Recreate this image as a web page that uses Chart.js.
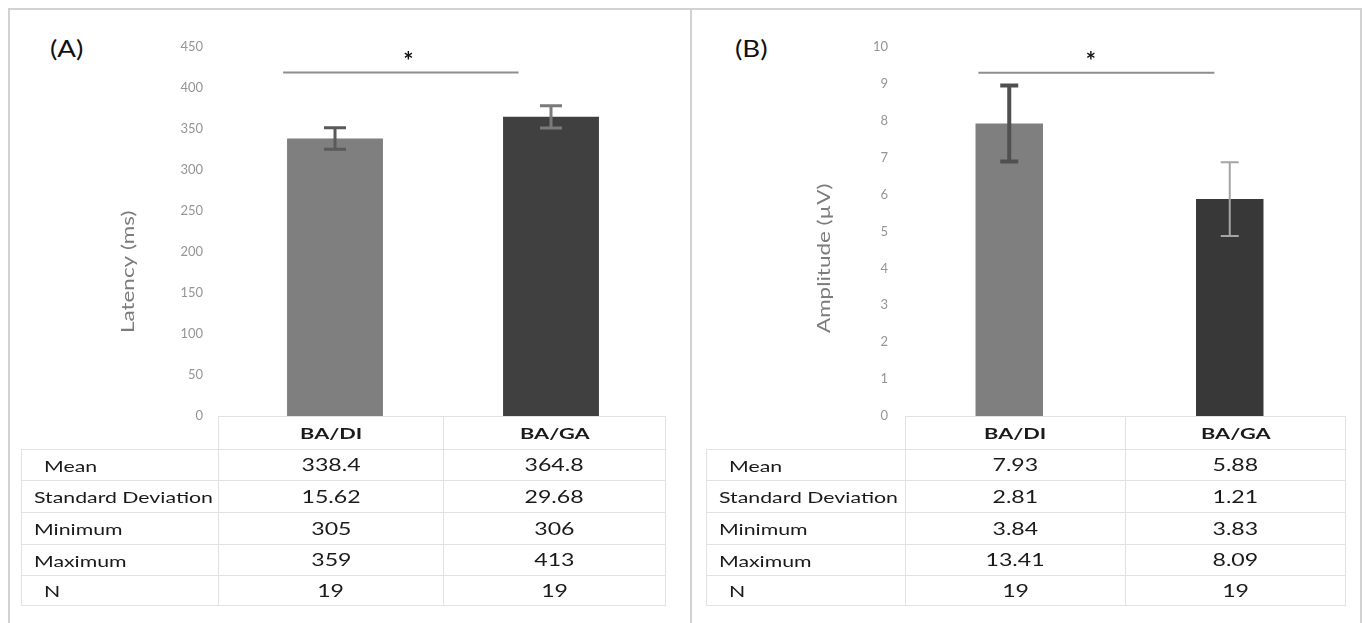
<!DOCTYPE html>
<html>
<head>
<meta charset="utf-8">
<script src="https://cdn.jsdelivr.net/npm/chart.js@4.4.0/dist/chart.umd.min.js"></script>
<style>
  body { margin: 0; width: 1366px; height: 623px; background: #fff; position: relative; overflow: hidden; font-family: Lato, sans-serif; }
  .frame { position: absolute; left: 8px; top: 8px; width: 1354px; height: 640px; border: 2px solid #d2d2d2; box-sizing: border-box; }
  .divider { position: absolute; left: 690px; top: 8px; width: 2px; height: 620px; background: #d2d2d2; }
  .tag { position: absolute; top: 34px; font-size: 23px; color: #111; }
  .tag span { display: inline-block; transform: scaleX(1.2); transform-origin: left; }
  canvas { position: absolute; }
  table { position: absolute; border-collapse: collapse; table-layout: fixed; color: #1a1a1a; }
  td { border: 1px solid #e2e2e2; padding: 0; text-align: center; white-space: nowrap; }
  td.blank { border: none; }
  td span { display: inline-block; transform: scaleX(1.4); }
  td.head { font-weight: 700; font-size: 15.5px; }
  td.val { font-size: 16.5px; }
  td.name { text-align: left; font-size: 16px; padding-left: 12px; }
  td.name span { transform-origin: left; transform: scaleX(1.33); }
  td.name.indent { padding-left: 22px; }
</style>
</head>
<body>
<div class="frame"></div>
<div class="divider"></div>
<div class="tag" style="left:50px"><span>(A)</span></div>
<div class="tag" style="left:735px"><span>(B)</span></div>
<canvas id="latencyChart" width="680" height="420" style="left:10px;top:10px"></canvas>
<canvas id="amplitudeChart" width="667" height="420" style="left:693px;top:10px"></canvas>
<table id="latencyTable" style="left:21px;top:416px"></table>
<table id="amplitudeTable" style="left:706px;top:416px"></table>
<script>
// ------------------------------------------------------------
// DATA
// ------------------------------------------------------------
const categories = ['BA/DI', 'BA/GA'];

const latencyMeans = [338.4, 364.8];
const latencyErrors = [13, 13.5];
const latencySigSpan = [-0.24, 0.85];   // category units
const latencySigLevel = 419;
const latencyStarAt = [0.34, 437];

const amplitudeMeans = [7.93, 5.88];
const amplitudeErrors = [1.03, 1.0];
const amplitudeSigSpan = [-0.14, 0.93];
const amplitudeSigLevel = 9.3;
const amplitudeStarAt = [0.37, 9.72];

const statNames = ['Mean', 'Standard Deviation', 'Minimum', 'Maximum', 'N'];
const latencyStatsDI = ['338.4', '15.62', '305', '359', '19'];
const latencyStatsGA = ['364.8', '29.68', '306', '413', '19'];
const amplitudeStatsDI = ['7.93', '2.81', '3.84', '13.41', '19'];
const amplitudeStatsGA = ['5.88', '1.21', '3.83', '8.09', '19'];

// ------------------------------------------------------------
// error bars, significance bracket, axis title
// ------------------------------------------------------------
const extrasPlugin = {
    id: 'extras',
    afterDatasetsDraw(chart, args, o) {
        const { ctx, chartArea } = chart;
        const xs = chart.scales.x, ys = chart.scales.y;
        const means = chart.data.datasets[0].data;
        ctx.save();

        o.errors.forEach((e, i) => {
            const cx = xs.getPixelForValue(i);
            const top = ys.getPixelForValue(means[i] + e);
            const bot = ys.getPixelForValue(means[i] - e);
            ctx.strokeStyle = o.errColors[i];
            ctx.lineWidth = o.errWidths[i];
            ctx.beginPath();
            ctx.moveTo(cx, top); ctx.lineTo(cx, bot);
            ctx.moveTo(cx - o.cap / 2, top); ctx.lineTo(cx + o.cap / 2, top);
            ctx.moveTo(cx - o.cap / 2, bot); ctx.lineTo(cx + o.cap / 2, bot);
            ctx.stroke();
        });

        const sy = ys.getPixelForValue(o.sigLevel);
        ctx.strokeStyle = '#8e8e8e';
        ctx.lineWidth = 2;
        ctx.beginPath();
        ctx.moveTo(xs.getPixelForValue(o.sigSpan[0]), sy);
        ctx.lineTo(xs.getPixelForValue(o.sigSpan[1]), sy);
        ctx.stroke();

        ctx.fillStyle = '#111';
        ctx.font = 'bold 24px Lato';
        ctx.textAlign = 'center';
        ctx.textBaseline = 'middle';
        ctx.fillText('*', xs.getPixelForValue(o.starAt[0]), ys.getPixelForValue(o.starAt[1]) + 5);

        // y axis title
        ctx.translate(chartArea.left - o.titleOffset, chartArea.bottom - 83);
        ctx.rotate(-Math.PI / 2);
        ctx.scale(1.32, 1);
        ctx.fillStyle = '#7c7c7c';
        ctx.font = '17px Lato';
        ctx.textAlign = 'left';
        ctx.fillText(o.title, 0, 0);

        ctx.restore();
    }
};

function makeChart(id, means, colors, yMax, step, lay, extras) {
    return new Chart(document.getElementById(id), {
        type: 'bar',
        data: {
            labels: categories,
            datasets: [{ data: means, backgroundColor: colors, borderWidth: 0, barPercentage: lay.bar, categoryPercentage: 1 }]
        },
        options: {
            responsive: false,
            animation: false,
            layout: { padding: lay.padding },
            plugins: { legend: { display: false }, tooltip: { enabled: false }, extras: extras },
            scales: {
                x: { display: false },
                y: {
                    min: 0, max: yMax,
                    ticks: { stepSize: step, padding: 2, color: '#959595', font: { family: 'Lato', size: 13 } },
                    grid: { display: false, drawTicks: true, tickLength: lay.tickGap },
                    border: { display: false },
                    afterFit: s => { s.width = lay.axisWidth; }
                }
            }
        },
        plugins: [extrasPlugin]
    });
}

makeChart('latencyChart', latencyMeans, ['#7f7f7f', '#404040'], 450, 50,
    { bar: 0.444, padding: { top: 37, bottom: 14, right: 31, left: 0 }, tickGap: 22, axisWidth: 217 },
    { errors: latencyErrors, errColors: ['#5a5a5a', '#7a7a7a'], errWidths: [3, 3], cap: 22,
      sigSpan: latencySigSpan, sigLevel: latencySigLevel, starAt: latencyStarAt,
      title: 'Latency (ms)', titleOffset: 98 });

makeChart('amplitudeChart', amplitudeMeans, ['#7f7f7f', '#383838'], 10, 1,
    { bar: 0.306, padding: { top: 37, bottom: 14, right: 20, left: 0 }, tickGap: 9, axisWidth: 206 },
    { errors: amplitudeErrors, errColors: ['#505050', '#a5a5a5'], errWidths: [4, 2], cap: 18,
      sigSpan: amplitudeSigSpan, sigLevel: amplitudeSigLevel, starAt: amplitudeStarAt,
      title: 'Amplitude (\u00b5V)', titleOffset: 74 });

// ------------------------------------------------------------
// TABLES
// ------------------------------------------------------------
function buildTable(id, colWidths, colA, colB) {
    const rowHeights = [33, 31, 32, 32, 31, 30];
    let html = '<colgroup>' + colWidths.map(w => `<col style="width:${w}px">`).join('') + '</colgroup>';
    html += `<tr style="height:${rowHeights[0]}px"><td class="blank"></td>` +
        categories.map(c => `<td class="head"><span>${c}</span></td>`).join('') + '</tr>';
    statNames.forEach((n, i) => {
        const indent = (n === 'Mean' || n === 'N') ? ' indent' : '';
        html += `<tr style="height:${rowHeights[i + 1]}px"><td class="name${indent}"><span>${n}</span></td>` +
            `<td class="val"><span>${colA[i]}</span></td><td class="val"><span>${colB[i]}</span></td></tr>`;
    });
    const t = document.getElementById(id);
    t.innerHTML = html;
    t.style.width = colWidths.reduce((a, b) => a + b, 0) + 'px';
}

buildTable('latencyTable', [197, 225, 222], latencyStatsDI, latencyStatsGA);
buildTable('amplitudeTable', [199, 220, 220], amplitudeStatsDI, amplitudeStatsGA);
</script>
</body>
</html>
